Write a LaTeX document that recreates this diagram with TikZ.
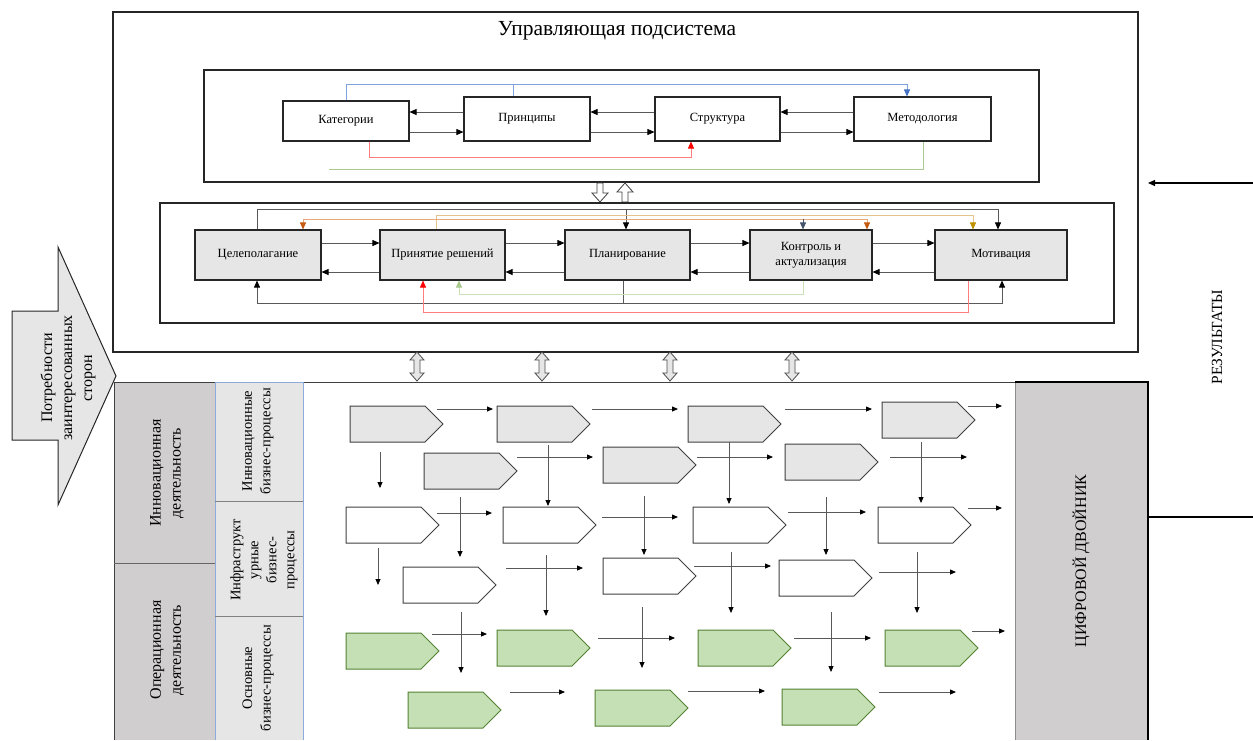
\documentclass[tikz,border=0pt]{standalone}
\usepackage{fontspec}
\setmainfont{Liberation Serif}
\usetikzlibrary{arrows.meta}
\definecolor{boxgray}{HTML}{E7E6E6}
\definecolor{bandgray}{HTML}{D0CECE}
\definecolor{bandblue}{HTML}{8EA9DB}
\definecolor{procgreen}{HTML}{C5E0B4}
\definecolor{procgreenedge}{HTML}{548235}
\definecolor{lblue}{HTML}{7EA3DC}
\definecolor{dblue}{HTML}{4472C4}
\definecolor{lred}{HTML}{FF7C80}
\definecolor{lgreen}{HTML}{A9C98E}
\definecolor{llgreen}{HTML}{C9E2B8}
\definecolor{ltan}{HTML}{E2C48C}
\definecolor{dtan}{HTML}{BF9000}
\definecolor{lbrown}{HTML}{E9A877}
\definecolor{dbrown}{HTML}{C55A11}
\definecolor{slate}{HTML}{44546A}
\newcommand\pent[3]{\draw[#3] (#1,#2) -- ++(75,0) -- ++(18,18) -- ++(-18,18) -- ++(-75,0) -- cycle;}
\newcommand\harr[3]{\draw[parr] (#1,#3) -- (#2,#3);}
\newcommand\varr[3]{\draw[parr] (#1,#2) -- (#1,#3);}
\newcommand\dblarr[1]{\draw[fill=boxgray, draw=black!70, line width=0.8pt] (#1,352) -- (#1+7,360) -- (#1+3,360) -- (#1+3,373) -- (#1+7,373) -- (#1,381) -- (#1-7,373) -- (#1-3,373) -- (#1-3,360) -- (#1-7,360) -- cycle;}
\begin{document}
\begin{tikzpicture}[x=1pt,y=-1pt,
  box/.style={draw=black!85, line width=1.1pt, align=center, inner sep=2pt, font=\fontsize{12.5}{14.5}\selectfont},
  gbox/.style={box, fill=boxgray},
  tip/.style={-{Triangle[length=7pt,width=6pt,color=black]}},
  conn/.style={draw=black!65, line width=0.8pt},
  parr/.style={draw=black!65, line width=0.8pt, -{Triangle[length=6pt,width=5pt,color=black]}},
  gproc/.style={fill=boxgray, draw=black!75, line width=1pt},
  wproc/.style={fill=white, draw=black!75, line width=1pt},
  eproc/.style={fill=procgreen, draw=procgreenedge, line width=1pt},
  rot/.style={rotate=90, align=center}
]
\useasboundingbox (0,0) rectangle (1253,740);
\fill[white] (0,0) rectangle (1253,740);

% ---------- control subsystem ----------
\draw[line width=1.2pt, draw=black!85] (113,12) rectangle (1138,352);
\node[font=\fontsize{21.5}{25}\selectfont] (title) at (617,31) {Управляющая подсистема};

\draw[line width=1.1pt, draw=black!85] (204,70) rectangle (1039,182);
\node[box, minimum width=126, minimum height=40] (kat) at (346,121) {Категории};
\node[box, minimum width=126, minimum height=44] (prin) at (527,119) {Принципы};
\node[box, minimum width=125, minimum height=44] (str) at (717.5,119) {Структура};
\node[box, minimum width=137, minimum height=44] (met) at (922.5,119) {Методология};

\foreach \a/\b in {kat/prin, prin/str, str/met} {
  \draw[conn, tip] (\b.west |- 0,112) -- (\a.east |- 0,112);
  \draw[conn, tip] (\a.east |- 0,132) -- (\b.west |- 0,132);
}
\draw[draw=lblue, line width=0.8pt, -{Triangle[length=7pt,width=6pt,color=dblue]}] (kat.north) |- (907,84) -- (met.north -| 907,0);
\draw[draw=lblue, line width=0.8pt] (prin.north -| 513,0) -- (513,84);
\draw[draw=lred, line width=0.8pt, -{Triangle[length=7pt,width=6pt,color=red]}] (kat.south -| 369,0) |- (691,157) -- (str.south -| 691,0);
\draw[draw=lgreen, line width=0.8pt] (met.south -| 923,0) |- (329,169);

% hollow arrows between inner boxes
\draw[fill=white, draw=black!75, line width=0.8pt] (597,183) -- (603,183) -- (603,193) -- (608,193) -- (600,202) -- (592,193) -- (597,193) -- cycle;
\draw[fill=white, draw=black!75, line width=0.8pt] (625,183) -- (633,192) -- (628,192) -- (628,202) -- (622,202) -- (622,192) -- (617,192) -- cycle;

\draw[line width=1.1pt, draw=black!85] (160,203) rectangle (1114,323);
\node[gbox, minimum width=126, minimum height=50] (cel) at (258,255) {Целеполагание};
\node[gbox, minimum width=125, minimum height=50] (pr) at (442.5,255) {Принятие решений};
\node[gbox, minimum width=125, minimum height=50] (pl) at (627.5,255) {Планирование};
\node[gbox, minimum width=122, minimum height=50] (kon) at (811,255) {Контроль и\\актуализация};
\node[gbox, minimum width=132, minimum height=50] (mot) at (1001,255) {Мотивация};

\foreach \a/\b in {cel/pr, pr/pl, pl/kon, kon/mot} {
  \draw[conn, tip] (\a.east |- 0,243) -- (\b.west |- 0,243);
  \draw[conn, tip] (\b.west |- 0,272) -- (\a.east |- 0,272);
}
% upper links
\draw[conn, tip] (cel.north -| 257,0) |- (998,209) -- (mot.north -| 998,0);
\draw[conn, tip] (626,209) -- (pl.north -| 626,0);
\draw[draw=ltan, line width=0.8pt, -{Triangle[length=7pt,width=6pt,color=dtan]}] (pr.north -| 436,0) |- (973,215) -- (mot.north -| 973,0);
\draw[draw=lbrown, line width=0.8pt, -{Triangle[length=7pt,width=6pt,color=dbrown]}] (626,219) -| (cel.north -| 303,0);
\draw[draw=lbrown, line width=0.8pt, -{Triangle[length=7pt,width=6pt,color=dbrown]}] (626,219) -| (kon.north -| 867,0);
\draw[draw=slate, line width=0.8pt, -{Triangle[length=7pt,width=6pt,color=slate]}] (803,219) -- (kon.north -| 803,0);
% lower links
\draw[conn] (pl.south -| 623,0) -- (623,303);
\draw[conn, tip] (623,303) -| (cel.south -| 257,0);
\draw[conn, tip] (623,303) -| (mot.south -| 1002,0);
\draw[draw=llgreen, line width=0.8pt, -{Triangle[length=7pt,width=6pt,color=lgreen]}] (kon.south -| 803,0) |- (459,294) -- (pr.south -| 459,0);
\draw[draw=lred, line width=0.8pt, -{Triangle[length=7pt,width=6pt,color=red]}] (mot.south -| 968,0) |- (423,312) -- (pr.south -| 423,0);

% ---------- stakeholders arrow ----------
\draw[fill=boxgray, draw=black!85, line width=1pt] (12,311) -- (58,311) -- (58,247) -- (116,376) -- (58,505) -- (58,440) -- (12,440) -- cycle;
\node[rot, font=\fontsize{16}{20}\selectfont] (need) at (68,378) {Потребности\\заинтересованных\\сторон};

% ---------- double arrows ----------
\dblarr{417}
\dblarr{542}
\dblarr{670}
\dblarr{792}

% ---------- lower area ----------
\fill[bandgray] (114,382) rectangle (215,740);
\draw[line width=1pt, draw=black!75] (114,740) -- (114,382) -- (1015,382);
\draw[draw=black!60, line width=0.8pt] (114,563) -- (215,563);
\fill[boxgray] (215,382) rectangle (303,740);
\draw[draw=bandblue, line width=1pt] (215,740) -- (215,382) -- (303,382) -- (303,740);
\draw[draw=black!50, line width=0.8pt] (215,501) -- (303,501);
\draw[draw=black!50, line width=0.8pt] (215,616) -- (303,616);

\node[rot, font=\fontsize{16}{20}\selectfont] (inn) at (167,473) {Инновационная\\деятельность};
\node[rot, font=\fontsize{16}{20}\selectfont] (oper) at (167,650) {Операционная\\деятельность};
\node[rot, font=\fontsize{14.5}{18.5}\selectfont] (innbp) at (258,441) {Инновационные\\бизнес-процессы};
\node[rot, font=\fontsize{14.5}{18}\selectfont] (infbp) at (264,560) {Инфраструкт\\урные\\бизнес-\\процессы};
\node[rot, font=\fontsize{14.5}{18.5}\selectfont] (osnbp) at (258,678) {Основные\\бизнес-процессы};

% digital twin
\fill[bandgray] (1015,382) rectangle (1148,740);
\draw[draw=black!45, line width=0.8pt] (1015,382) -- (1015,740);
\draw[line width=1.2pt] (1015,382) -- (1148,382) -- (1148,740);
\node[rot, font=\fontsize{16}{20}\selectfont] (dt) at (1081,561) {ЦИФРОВОЙ ДВОЙНИК};

% results
\node[rot, font=\fontsize{15.5}{18}\selectfont] (res) at (1217,337) {РЕЗУЛЬТАТЫ};
\coordinate (resin) at (1253,183);
\coordinate (resout) at (1253,517);
\draw[line width=1.2pt, tip] (resin) -- (1148,183);
\draw[line width=1.2pt] (1148,517) -- (resout);

% ---------- processes ----------
\foreach \x/\y in {350/406, 497/406, 688/406, 882/402, 424/453, 603/447, 785/444} {\pent{\x}{\y}{gproc}}
\foreach \x/\y in {346/507, 503/507, 693/507, 878/507, 403/567, 603/558, 779/560} {\pent{\x}{\y}{wproc}}
\foreach \x/\y in {346/633, 497/630, 698/630, 885/630, 408/692, 595/690, 782/689} {\pent{\x}{\y}{eproc}}

\foreach \a/\b/\c in {437/493/409, 592/678/409, 785/872/409, 968/1002/406,
  517/593/457, 697/773/457, 890/967/457,
  437/492/513, 602/678/517, 788/866/512, 968/1002/508,
  506/583/568, 694/771/566, 879/956/572,
  432/487/634, 598/675/638, 794/871/638, 972/1005/631,
  510/565/692, 688/765/691, 879/956/692} {\harr{\a}{\b}{\c}}
\foreach \a/\b/\c in {380/452/488, 548/445/506, 729/442/504, 921/442/503,
  460/497/557, 644/496/555, 826/497/555,
  378/548/585, 546/555/616, 731/552/613, 917/552/613,
  461/612/673, 642/607/668, 831/612/672} {\varr{\a}{\b}{\c}}
\end{tikzpicture}
\end{document}
